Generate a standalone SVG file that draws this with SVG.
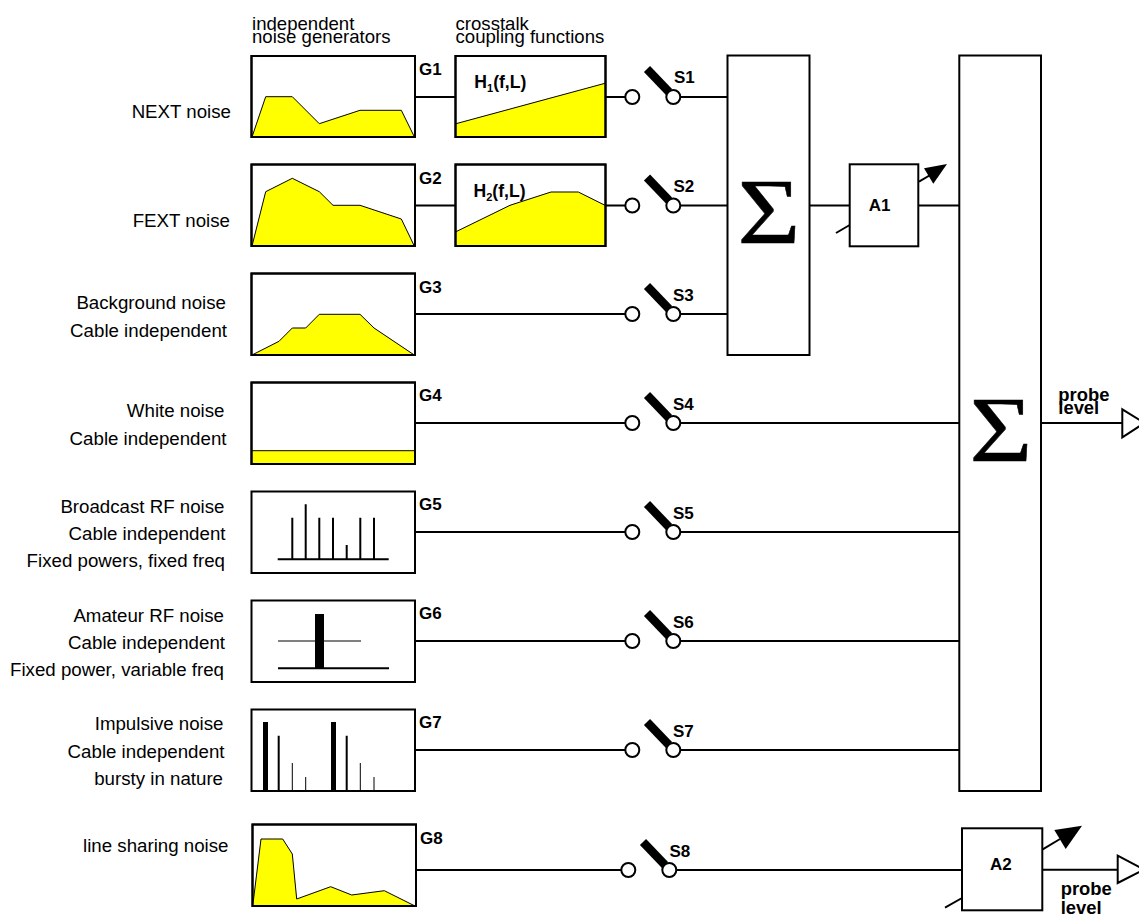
<svg xmlns="http://www.w3.org/2000/svg" width="1139" height="915" viewBox="0 0 1139 915">
<style>
text{font-family:"Liberation Sans",Arial,sans-serif;fill:#000}
.t{font-size:18.6px}
.r{font-size:18.7px;text-anchor:end}
.b{font-size:17px;font-weight:bold}
.h{font-size:17.600px;font-weight:bold}
.p{font-size:18.4px;font-weight:bold}
.sub{font-size:11px}
.sig{font-family:"Liberation Serif","Times New Roman",serif;font-size:94px;stroke:#000;stroke-width:.5}
.box{fill:none;stroke:#000;stroke-width:2}
.bg{fill:#fff;stroke:#000;stroke-width:2}
.fill{fill:#ff0;stroke:#000;stroke-width:1}
.w{fill:none;stroke:#000;stroke-width:2}
.blade{stroke:#000;stroke-width:8.500;fill:none}
.pin{fill:#fff;stroke:#000;stroke-width:2}
</style>
<defs>
<g id="sw">
<line class="blade" x1="647" y1="-28" x2="669" y2="-5"/>
<circle class="pin" cx="632.3" cy="0" r="7"/>
<circle class="pin" cx="673.3" cy="0" r="7"/>
</g>
</defs>
<g id="connectors">
<path class="w" d="M415 97H455M606 97H625M680 97H727.5"/>
<path class="w" d="M415 205.500H455M606 205.500H625M680 205.500H727.500"/>
<path class="w" d="M415 314H625M680 314H727.500"/>
<path class="w" d="M415 423H625M680 423H959.300"/>
<path class="w" d="M415 532H625M680 532H959.300"/>
<path class="w" d="M415 641H625M680 641H959.300"/>
<path class="w" d="M415 750H625M680 750H959.300"/>
<path class="w" d="M416 870H621M676 870H962"/>
<path class="w" d="M809.700 205.500H849.700M918.300 205.500H959.300"/>
<path class="w" d="M1041 423H1122.300M1042.300 869.700H1117.700"/>
<path class="w" d="M836 233L849.700 225M945 907.700L962 898"/>
</g>
<g id="G1"><rect class="bg" x="251.500" y="56" width="163.500" height="81"/><polygon class="fill" points="252,137 265.700,96.700 292.300,96.700 319.300,123.700 360,110.300 401.300,110.300 414.300,136.700"/><rect class="box" x="251.500" y="56" width="163.500" height="81"/><text class="b" x="419" y="75">G1</text></g>
<g id="H1"><rect class="bg" x="455.500" y="56" width="150" height="81"/><polygon class="fill" points="456,123.700 605,83.300 605,137 456,137"/><rect class="box" x="455.500" y="56" width="150" height="81"/><text class="h" x="474.300" y="88.300">H<tspan class="sub" dy="4">1</tspan><tspan dy="-4">(f,L)</tspan></text></g>
<g id="G2"><rect class="bg" x="251.500" y="164.500" width="163.500" height="81.500"/><polygon class="fill" points="252,246 265.700,191.700 292.300,178.300 319.300,191.700 333,205.300 360,205.300 401.300,219 414.300,246"/><rect class="box" x="251.500" y="164.500" width="163.500" height="81.500"/><text class="b" x="419" y="184">G2</text></g>
<g id="H2"><rect class="bg" x="455.500" y="164.500" width="150" height="81.500"/><polygon class="fill" points="456,231.700 510,205.300 551,192 578.300,192 605,205.300 605,246 456,246"/><rect class="box" x="455.500" y="164.500" width="150" height="81.500"/><text class="h" x="473.500" y="197">H<tspan class="sub" dy="4">2</tspan><tspan dy="-4">(f,L)</tspan></text></g>
<g id="G3"><rect class="bg" x="251.500" y="273.500" width="163.500" height="81.500"/><polygon class="fill" points="252,355 279,341.300 292.300,328 305.700,328 319.300,314.300 360,314.300 374,328 414.300,355"/><rect class="box" x="251.500" y="273.500" width="163.500" height="81.500"/><text class="b" x="419" y="293">G3</text></g>
<g id="G4"><rect class="bg" x="251.500" y="382.500" width="163.500" height="81.500"/><rect class="fill" x="252" y="450.700" width="163" height="13.300"/><rect class="box" x="251.500" y="382.500" width="163.500" height="81.500"/><text class="b" x="419" y="401">G4</text></g>
<g id="G5"><rect class="bg" x="251.500" y="491.500" width="163.500" height="81.500"/><path class="w" d="M277.700 559.300H388.700M292.300 559.300V517.700M305.700 559.300V504.300M319.300 559.300V517.700M333 559.300V517.700M346.700 559.300V545M360.300 559.300V517.700M374 559.300V517.700"/><text class="b" x="419" y="510">G5</text></g>
<g id="G6"><rect class="bg" x="251.500" y="600.500" width="163.500" height="81.500"/><path d="M278 641H361" stroke="#000" stroke-width="1" fill="none"/><rect x="315" y="614" width="9" height="54" fill="#000"/><path class="w" d="M278 668.300H389"/><text class="b" x="419" y="619">G6</text></g>
<g id="G7"><rect class="bg" x="251.500" y="709.500" width="163.500" height="81.500"/><rect x="263" y="722" width="5" height="69" fill="#000"/><rect x="331" y="722" width="5" height="69" fill="#000"/><path d="M278.700 791V735.700M346.700 791V735.700" stroke="#000" stroke-width="2" fill="none"/><path d="M292.300 791V763M305.700 791V777M360.300 791V763M374 791V777" stroke="#000" stroke-width="1" fill="none"/><text class="b" x="419" y="728">G7</text></g>
<g id="G8"><rect class="bg" x="252.500" y="824.500" width="163.500" height="81.500"/><polygon class="fill" points="252.700,906 261,839 282.700,839 292.300,854 296.700,899 330.700,886.700 351.700,895 384.300,890.700 415,906"/><rect class="box" x="252.500" y="824.500" width="163.500" height="81.500"/><text class="b" x="420" y="844">G8</text></g>
<g id="S1"><use href="#sw" y="97"/><text class="b" x="674" y="82.700">S1</text></g>
<g id="S2"><use href="#sw" y="205.500"/><text class="b" x="673.500" y="191.700">S2</text></g>
<g id="S3"><use href="#sw" y="314"/><text class="b" x="673" y="301">S3</text></g>
<g id="S4"><use href="#sw" y="423"/><text class="b" x="673" y="410">S4</text></g>
<g id="S5"><use href="#sw" y="532"/><text class="b" x="673" y="519">S5</text></g>
<g id="S6"><use href="#sw" y="641"/><text class="b" x="673" y="627.700">S6</text></g>
<g id="S7"><use href="#sw" y="750"/><text class="b" x="673" y="737.300">S7</text></g>
<g id="S8"><use href="#sw" x="-4" y="870"/><text class="b" x="669.500" y="856.700">S8</text></g>
<g id="sum1"><rect class="bg" x="727.500" y="55.500" width="82" height="299.500"/><text class="sig" transform="translate(737.500 243) scale(1.15 1)" x="0" y="0">Σ</text></g>
<g id="A1"><rect class="bg" x="849.700" y="164.300" width="68.600" height="82"/><text class="b" x="868.700" y="211">A1</text><path class="w" d="M919 181.700L932 174"/><polygon points="947,164 924,168.300 933.300,183.700" fill="#000"/></g>
<g id="sum2"><rect class="bg" x="959.300" y="55.500" width="81.700" height="735.500"/><text class="sig" transform="translate(969.500 461) scale(1.15 1)" x="0" y="0">Σ</text></g>
<g id="A2"><rect class="bg" x="962" y="828.300" width="80.300" height="82"/><text class="b" x="990" y="870">A2</text><path class="w" d="M1042.700 849.300L1060 839"/><polygon points="1082,825.700 1054.300,830 1065.700,849" fill="#000"/></g>
<g id="out1"><polygon class="bg" points="1122.300,409.300 1122.300,437.300 1144.500,423"/><text class="p" x="1058.300" y="400.700">probe</text><text class="p" x="1058.300" y="414">level</text></g>
<g id="out2"><polygon class="bg" points="1117.700,855.700 1117.700,883 1144,869.500"/><text class="p" x="1060.700" y="895">probe</text><text class="p" x="1060.700" y="913.500">level</text></g>
<g id="headers">
<text class="t" x="252" y="30">independent</text><text class="t" x="252" y="42.700">noise generators</text>
<text class="t" x="455.500" y="30">crosstalk</text><text class="t" x="455.500" y="42.700">coupling functions</text>
</g>
<g id="labels">
<text class="r" x="231" y="118">NEXT noise</text>
<text class="r" x="230" y="227">FEXT noise</text>
<text class="r" x="226" y="309.300">Background noise</text>
<text class="r" x="227" y="336.700">Cable independent</text>
<text class="r" x="224.500" y="417.300">White noise</text>
<text class="r" x="226.500" y="445">Cable independent</text>
<text class="r" x="224.500" y="512.700">Broadcast RF noise</text>
<text class="r" x="225.500" y="540">Cable independent</text>
<text class="r" x="225" y="567.300">Fixed powers, fixed freq</text>
<text class="r" x="224" y="621.700">Amateur RF noise</text>
<text class="r" x="225" y="649">Cable independent</text>
<text class="r" x="224" y="676.300">Fixed power, variable freq</text>
<text class="r" x="223.500" y="730">Impulsive noise</text>
<text class="r" x="224.500" y="757.700">Cable independent</text>
<text class="r" x="223" y="785">bursty in nature</text>
<text class="r" x="228.500" y="851.700">line sharing noise</text>
</g>
</svg>
